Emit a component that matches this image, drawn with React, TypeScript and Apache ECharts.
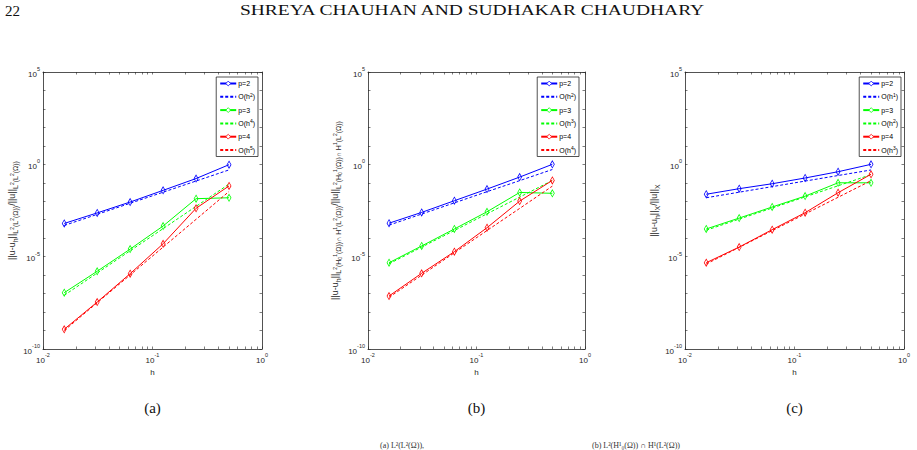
import React, { useEffect, useRef } from 'react';
import * as echarts from 'echarts';

// mesh sizes h
const H = [0.015625, 0.03125, 0.0625, 0.125, 0.25, 0.5];

// (a) relative errors in L2(L2)
const A_P2 = [6.3e-4, 2.34e-3, 9.1e-3, 3.9e-2, 0.17, 0.955];
const A_REF2 = [4.9e-4, 1.95e-3, 7.8e-3, 3.1e-2, 0.125, 0.5];
const A_P3 = [1.12e-7, 1.62e-6, 2.57e-5, 4.57e-4, 1.38e-2, 1.55e-2];
const A_REF4 = [8.1e-8, 1.3e-6, 2.08e-5, 3.3e-4, 5.3e-3, 8.5e-2];
const A_P4 = [1.17e-9, 3.47e-8, 1.2e-6, 5.0e-5, 4.17e-3, 6.76e-2];
const A_REF5 = [1.0e-9, 3.2e-8, 1.02e-6, 3.3e-5, 1.05e-3, 3.4e-2];

// (b) relative errors in L2(H1_0) ∩ H1(L2)
const B_P2 = [6.5e-4, 2.5e-3, 1.07e-2, 4.57e-2, 0.204, 1.0];
const B_REF2 = [5.1e-4, 2.04e-3, 8.2e-3, 3.3e-2, 0.131, 0.525];
const B_P3 = [4.7e-6, 3.8e-5, 3.16e-4, 2.7e-3, 3.0e-2, 2.7e-2];
const B_REF3 = [4.1e-6, 3.3e-5, 2.6e-4, 2.1e-3, 1.68e-2, 0.134];
const B_P4 = [7.4e-8, 1.26e-6, 1.86e-5, 3.7e-4, 1.02e-2, 0.135];
const B_REF4 = [6.3e-8, 1.0e-6, 1.62e-5, 2.6e-4, 4.1e-3, 6.6e-2];

// (c) relative errors in X
const C_P2 = [2.4e-2, 4.8e-2, 8.9e-2, 0.182, 0.398, 1.0];
const C_REF1 = [1.55e-2, 3.1e-2, 6.2e-2, 0.124, 0.248, 0.495];
const C_P3 = [3.16e-4, 1.23e-3, 4.9e-3, 1.9e-2, 0.1, 0.1];
const C_REF2 = [2.7e-4, 1.08e-3, 4.3e-3, 1.73e-2, 6.9e-2, 0.277];
const C_P4 = [4.7e-6, 3.3e-5, 2.9e-4, 2.4e-3, 2.9e-2, 0.29];
const C_REF3 = [4.0e-6, 3.2e-5, 2.56e-4, 2.05e-3, 1.64e-2, 0.131];

// legend labels
const A_LABELS = ['p=2', 'O(h^2)', 'p=3', 'O(h^4)', 'p=4', 'O(h^5)'];
const B_LABELS = ['p=2', 'O(h^2)', 'p=3', 'O(h^3)', 'p=4', 'O(h^4)'];
const C_LABELS = ['p=2', 'O(h^1)', 'p=3', 'O(h^2)', 'p=4', 'O(h^3)'];

// ticks
const X_TICKS = [0.01, 0.02, 0.03, 0.04, 0.05, 0.06, 0.07, 0.08, 0.09, 0.1, 0.2, 0.3, 0.4, 0.5, 0.6, 0.7, 0.8, 0.9, 1];
const X_LABELS = [0.01, 0.1, 1];
const Y_TICKS = [1e-10, 1e-9, 1e-8, 1e-7, 1e-6, 1e-5, 1e-4, 1e-3, 1e-2, 1e-1, 1, 1e1, 1e2, 1e3, 1e4, 1e5];
const Y_LABELS = [1e-10, 1e-5, 1, 1e5];

// y-axis titles (rich text)
const A_YNAME = '||u-u{s|h}||{s|L}{ss|2}{s|(L}{ss|2}{s|(Ω))}/||u||{s|L}{ss|2}{s|(L}{ss|2}{s|(Ω))}';
const B_YNAME = '||u-u{s|h}||{s|L}{ss|2}{s|(H}{sss|0}{ss|1}{s|(Ω))∩ H}{ss|1}{s|(L}{ss|2}{s|(Ω))}/||u||{s|L}{ss|2}{s|(H}{sss|0}{ss|1}{s|(Ω))∩ H}{ss|1}{s|(L}{ss|2}{s|(Ω))}';
const C_YNAME = '||u-u{s|h}||{s|X}/||u||{s|X}';

const SANS = 'Liberation Sans, Arial, sans-serif';
const SERIF = 'Liberation Serif, Times New Roman, serif';
const AX = '#262626';
const COLORS = ['#0000ff', '#00ff00', '#ff0000'];

const GRIDS = [
  { left: 43, top: 72, width: 219, height: 277 },
  { left: 368, top: 72, width: 217, height: 277 },
  { left: 685, top: 72, width: 219, height: 277 },
];

const PLOTS = [
  { tag: 'a', solid: [A_P2, A_P3, A_P4], ref: [A_REF2, A_REF4, A_REF5], labels: A_LABELS, yname: A_YNAME, nameGap: 22, legendRight: 659, caption: '(a)' },
  { tag: 'b', solid: [B_P2, B_P3, B_P4], ref: [B_REF2, B_REF3, B_REF4], labels: B_LABELS, yname: B_YNAME, nameGap: 26, legendRight: 338, caption: '(b)' },
  { tag: 'c', solid: [C_P2, C_P3, C_P4], ref: [C_REF1, C_REF2, C_REF3], labels: C_LABELS, yname: C_YNAME, nameGap: 20, legendRight: 16, caption: '(c)' },
];

const powLabel = (v: number) => `{b|10}{e|${Math.round(Math.log10(v))}}`;
const labelRich = {
  b: { fontSize: 8, lineHeight: 12, verticalAlign: 'bottom', fontFamily: SANS, color: AX },
  e: { fontSize: 5.5, lineHeight: 7, verticalAlign: 'top', fontFamily: SANS, color: AX },
};

function buildOption() {
  const xAxis: any[] = [];
  const yAxis: any[] = [];
  const series: any[] = [];
  const legend: any[] = [];
  const graphic: any[] = [];

  PLOTS.forEach((p, gi) => {
    const axisLine = { show: true, lineStyle: { color: AX, width: 0.8 } };
    const tick = { show: true, inside: true, length: 2.5, lineStyle: { color: AX, width: 0.6 } };
    xAxis.push({
      type: 'log', logBase: 10, gridIndex: gi, min: 0.01, max: 1, position: 'bottom',
      axisLine, splitLine: { show: false },
      axisTick: { ...tick, customValues: X_TICKS },
      axisLabel: { show: true, margin: 3, customValues: X_LABELS, formatter: powLabel, rich: labelRich },
      name: 'h', nameLocation: 'middle', nameGap: 17,
      nameTextStyle: { fontFamily: SANS, fontSize: 8, color: AX },
    });
    xAxis.push({
      type: 'log', logBase: 10, gridIndex: gi, min: 0.01, max: 1, position: 'top',
      axisLine, splitLine: { show: false },
      axisTick: { ...tick, customValues: X_TICKS },
      axisLabel: { show: false },
    });
    yAxis.push({
      type: 'log', logBase: 10, gridIndex: gi, min: 1e-10, max: 1e5, position: 'left',
      axisLine, splitLine: { show: false },
      axisTick: { ...tick, customValues: Y_TICKS },
      axisLabel: { show: true, margin: 3, customValues: Y_LABELS, formatter: powLabel, rich: labelRich },
      name: p.yname, nameLocation: 'middle', nameRotate: 90, nameGap: p.nameGap,
      nameTextStyle: {
        fontFamily: SANS, fontSize: 9, color: AX, lineHeight: 15,
        rich: {
          s: { fontFamily: SANS, fontSize: 7, lineHeight: 10, verticalAlign: 'bottom', color: AX },
          ss: { fontFamily: SANS, fontSize: 5, lineHeight: 15, verticalAlign: 'middle', color: AX },
          sss: { fontFamily: SANS, fontSize: 5, lineHeight: 6, verticalAlign: 'bottom', color: AX },
        },
      },
    });
    yAxis.push({
      type: 'log', logBase: 10, gridIndex: gi, min: 1e-10, max: 1e5, position: 'right',
      axisLine, splitLine: { show: false },
      axisTick: { ...tick, customValues: Y_TICKS },
      axisLabel: { show: false },
    });

    const legendData: any[] = [];
    for (let k = 0; k < 3; k++) {
      const c = COLORS[k];
      const sName = `${p.tag}|${p.labels[2 * k]}`;
      const rName = `${p.tag}|${p.labels[2 * k + 1]}`;
      legendData.push(
        { name: sName, itemStyle: { color: '#ffffff', borderColor: c, borderWidth: 0.8 } },
        { name: rName, itemStyle: { color: 'rgba(0,0,0,0)', borderColor: 'rgba(0,0,0,0)', borderWidth: 0, opacity: 0 } },
      );
      series.push({
        name: sName, type: 'line', xAxisIndex: gi * 2, yAxisIndex: gi * 2,
        data: H.map((h, j) => [h, p.solid[k][j]]),
        symbol: 'diamond', symbolSize: [4, 7],
        lineStyle: { color: c, width: 1 },
        itemStyle: { color: 'rgba(255,255,255,0)', borderColor: c, borderWidth: 0.8 },
        emphasis: { disabled: true }, z: 2 + 2 * k,
      });
      series.push({
        name: rName, type: 'line', xAxisIndex: gi * 2, yAxisIndex: gi * 2,
        data: H.map((h, j) => [h, p.ref[k][j]]),
        symbol: 'none', showSymbol: false,
        lineStyle: { color: c, width: 1, type: [3, 2] },
        itemStyle: { color: c },
        emphasis: { disabled: true }, z: 3 + 2 * k,
      });
    }

    legend.push({
      right: p.legendRight, top: 77, orient: 'vertical',
      itemWidth: 16, itemHeight: 6, itemGap: 4.3,
      padding: [2, 3, 2, 3],
      borderColor: AX, borderWidth: 0.8, backgroundColor: '#fff',
      selectedMode: false,
      data: legendData,
      formatter: (n: string) => n.split('|')[1].replace(/\^(\d)/, '{sup|$1}'),
      textStyle: {
        fontFamily: SANS, fontSize: 7, color: '#000', lineHeight: 9, padding: [0, 0, 0, -3],
        rich: { sup: { fontFamily: SANS, fontSize: 5, lineHeight: 6, verticalAlign: 'top', color: '#000' } },
      },
    });

    const g = GRIDS[gi];
    graphic.push({
      type: 'text', x: g.left + g.width / 2, y: 408,
      style: { text: p.caption, font: `15px ${SERIF}`, fill: '#111', align: 'center', verticalAlign: 'middle' },
    });
  });

  graphic.push({
    type: 'text', x: 5, y: 3,
    style: { text: '22', font: `15px ${SERIF}`, fill: '#111', align: 'left', verticalAlign: 'top' },
  });
  graphic.push({
    type: 'text', x: 472, y: 3, scaleX: 1.3,
    style: { text: 'SHREYA CHAUHAN AND SUDHAKAR CHAUDHARY', font: `15px ${SERIF}`, fill: '#111', align: 'center', verticalAlign: 'top' },
  });
  graphic.push({
    type: 'text', x: 380, y: 441,
    style: { text: '(a) L²(L²(Ω)),', font: `8px ${SERIF}`, fill: '#333', align: 'left', verticalAlign: 'top' },
  });
  graphic.push({
    type: 'text', x: 592, y: 441,
    style: { text: '(b) L²(H¹₀(Ω)) ∩ H¹(L²(Ω))', font: `8px ${SERIF}`, fill: '#333', align: 'left', verticalAlign: 'top' },
  });

  return {
    animation: false,
    backgroundColor: '#ffffff',
    grid: GRIDS.map((g) => ({ ...g, containLabel: false, outerBoundsMode: 'none' })),
    xAxis, yAxis, series, legend, graphic,
    tooltip: { show: false },
  };
}

export default function App() {
  const ref = useRef<HTMLDivElement>(null);
  useEffect(() => {
    if (!ref.current) return;
    const chart = echarts.init(ref.current, null, { renderer: 'svg' });
    chart.setOption(buildOption() as any);
    return () => chart.dispose();
  }, []);
  return (
    <div
      ref={ref}
      style={{ position: 'absolute', left: 0, top: 0, width: 917, height: 450, background: '#fff' }}
    />
  );
}
